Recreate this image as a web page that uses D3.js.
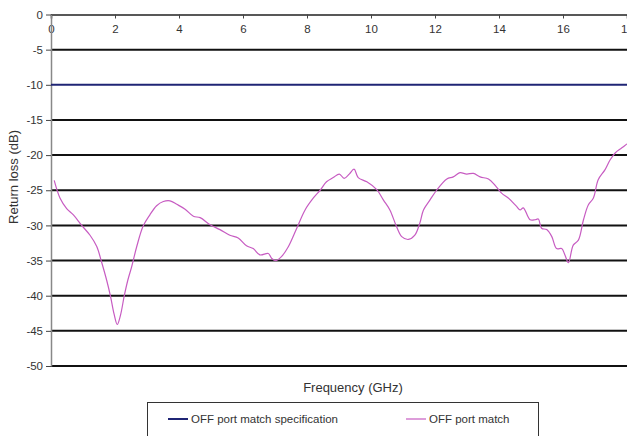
<!DOCTYPE html>
<html>
<head>
<meta charset="utf-8">
<script src="https://cdn.jsdelivr.net/npm/d3@7"></script>
<style>
	body { margin: 0; background: #fff; }
	svg text { font-family: "Liberation Sans", Arial, sans-serif; fill: #333; }
</style>
</head>
<body>
<div id="chart"></div>
<script>
	var freq = [0.1, 0.28, 0.49, 0.7, 0.96, 1.22, 1.43, 1.58, 1.74, 1.86, 1.97, 2.07, 2.17, 2.29, 2.4, 2.52, 2.68, 2.88,
		3.09, 3.3, 3.51, 3.72, 3.93, 4.19, 4.45, 4.66, 4.97, 5.28, 5.59, 5.85, 6.11, 6.32, 6.53, 6.79, 6.9, 7.03,
		7.21, 7.42, 7.68, 7.94, 8.2, 8.41, 8.61, 8.82, 9.01, 9.16, 9.32, 9.47, 9.6, 9.87, 10.18, 10.39, 10.59,
		10.8, 10.96, 11.17, 11.37, 11.53, 11.64, 11.84, 12.05, 12.37, 12.57, 12.78, 12.99, 13.2, 13.41, 13.67,
		13.88, 14.08, 14.29, 14.55, 14.66, 14.76, 14.97, 15.13, 15.23, 15.33, 15.49, 15.65, 15.8, 15.96, 16.06,
		16.17, 16.32, 16.48, 16.64, 16.79, 16.95, 17.1, 17.31, 17.47, 17.63, 17.83, 18.0];
	var returnLoss = [-23.6, -26.1, -27.6, -28.5, -30.0, -31.4, -33.0, -35.2, -37.8, -40.1, -42.6, -44.1, -42.8, -40.0, -37.8, -35.9, -33.0, -30.1,
		-28.5, -27.2, -26.6, -26.5, -27.0, -27.7, -28.7, -28.9, -29.9, -30.6, -31.4, -31.8, -32.9, -33.3, -34.2, -34.0, -34.7, -35.0,
		-34.4, -33.0, -30.4, -27.8, -26.1, -25.0, -23.8, -23.2, -22.7, -23.3, -22.7, -22.0, -23.2, -23.8, -24.9, -26.4, -27.8,
		-30.2, -31.6, -32.0, -31.4, -29.6, -27.8, -26.4, -25.0, -23.4, -23.1, -22.5, -22.7, -22.6, -23.1, -23.4,
		-24.3, -25.4, -26.1, -27.3, -27.8, -27.5, -29.2, -29.2, -29.1, -30.4, -30.6, -31.6, -33.3, -33.3, -34.2,
		-35.3, -32.8, -32.1, -29.2, -27.1, -26.1, -23.5, -22.1, -20.7, -19.7, -19.0, -18.4];
	var specLimit = -10;
	var xTicks = [0, 2, 4, 6, 8, 10, 12, 14, 16, 18];
	var yTicks = [0, -5, -10, -15, -20, -25, -30, -35, -40, -45, -50];
	var seriesNames = ["OFF port match specification", "OFF port match"];

	var width = 627, height = 436;
	var margin = {left: 51, top: 14.5, right: 0, bottom: 70};

	var svg = d3.select("#chart").append("svg")
		.attr("width", width)
		.attr("height", height);

	var x = d3.scaleLinear().domain([0, 18]).range([margin.left, 627]);
	var y = d3.scaleLinear().domain([0, -50]).range([margin.top, 366]);

	//gridlines
	svg.append("g")
		.selectAll("line")
		.data(yTicks.filter(function(d) { return d !== 0 && d !== specLimit; }))
		.enter().append("line")
		.attr("x1", margin.left).attr("x2", width)
		.attr("y1", function(d) { return y(d); })
		.attr("y2", function(d) { return y(d); })
		.attr("stroke", "#111")
		.attr("stroke-width", 2);

	// plain hyphen for negatives, like the original
	var fmt = function(d) { return String(d); };

	// top axis (0 dB) with labels under it
	var xAxis = svg.append("g")
		.attr("transform", "translate(0," + y(0) + ")")
		.call(d3.axisTop(x).tickValues(xTicks).tickFormat(fmt).tickSize(-4).tickPadding(-18));
	xAxis.select(".domain").attr("stroke", "#222").attr("stroke-width", 1.5);
	xAxis.selectAll(".tick line").attr("stroke", "#444");
	xAxis.selectAll(".tick text").attr("font-size", 11.5).attr("fill", "#333");

	// y axis
	var yAxis = svg.append("g")
		.attr("transform", "translate(" + margin.left + ",0)")
		.call(d3.axisLeft(y).tickValues(yTicks).tickFormat(fmt).tickSize(5).tickPadding(3).tickSizeOuter(0));
	yAxis.select(".domain").attr("stroke", "#888").attr("stroke-width", 1.5);
	yAxis.selectAll(".tick line").attr("stroke", "#444");
	yAxis.selectAll(".tick text").attr("font-size", 11.5).attr("fill", "#333");

	// spec line
	svg.append("line")
		.attr("x1", margin.left).attr("x2", width)
		.attr("y1", y(specLimit)).attr("y2", y(specLimit))
		.attr("stroke", "#1f2575")
		.attr("stroke-width", 2);

	// measured trace
	var line = d3.line()
		.x(function(d, i) { return x(freq[i]); })
		.y(function(d) { return y(d); })
		.curve(d3.curveCatmullRom);

	svg.append("path")
		.datum(returnLoss)
		.attr("fill", "none")
		.attr("stroke", "#c75cc2")
		.attr("stroke-width", 1.2)
		.attr("d", line);

	// axis titles
	svg.append("text")
		.attr("x", 353).attr("y", 392)
		.attr("text-anchor", "middle")
		.attr("font-size", 13)
		.text("Frequency (GHz)");

	svg.append("text")
		.attr("transform", "translate(18,177) rotate(-90)")
		.attr("text-anchor", "middle")
		.attr("font-size", 13)
		.text("Return loss (dB)");

	// legend
	var legend = svg.append("g");
	legend.append("rect")
		.attr("x", 147.5).attr("y", 402.5)
		.attr("width", 391).attr("height", 50)
		.attr("fill", "#fff")
		.attr("stroke", "#333");

	var legendX = [168, 406];
	var legendColor = ["#1f2575", "#c75cc2"];
	var legendW = [2, 1.2];
	seriesNames.forEach(function(name, i) {
		legend.append("line")
			.attr("x1", legendX[i]).attr("x2", legendX[i] + 20)
			.attr("y1", 419).attr("y2", 419)
			.attr("stroke", legendColor[i])
			.attr("stroke-width", legendW[i]);
		legend.append("text")
			.attr("x", legendX[i] + 23).attr("y", 423)
			.attr("font-size", 11.5)
			.text(name);
	});
</script>
</body>
</html>
